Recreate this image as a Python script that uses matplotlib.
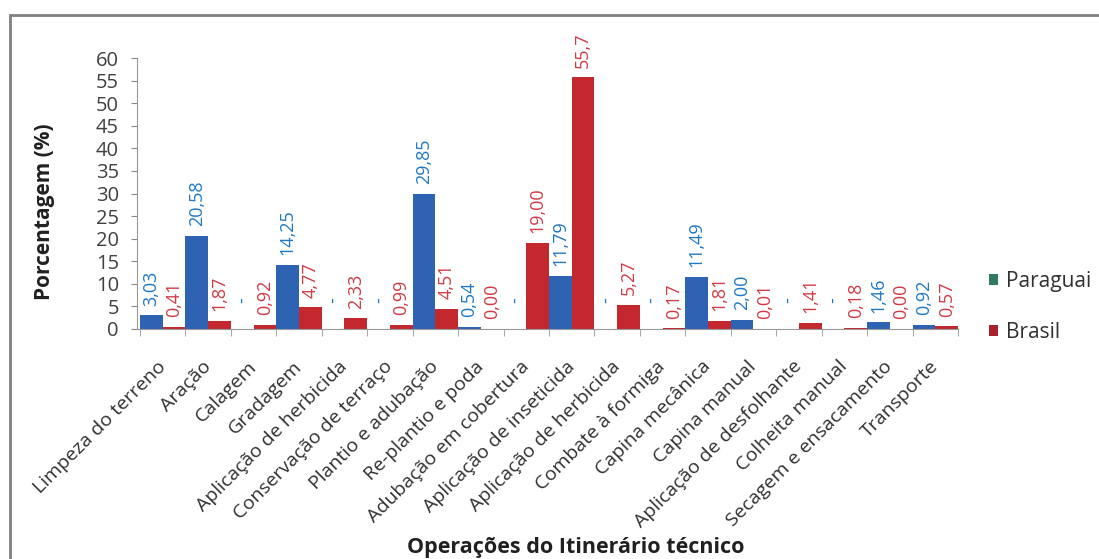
import matplotlib
matplotlib.use("Agg")
import matplotlib.pyplot as plt
from matplotlib.patches import Rectangle, Patch
import numpy as np

plt.rcParams['font.family'] = ['Open Sans', 'DejaVu Sans']

categories = [
    "Limpeza do terreno", "Aração", "Calagem", "Gradagem",
    "Aplicação de herbicida", "Conservação de terraço", "Plantio e adubação",
    "Re-plantio e poda", "Adubação em cobertura", "Aplicação de inseticida",
    "Aplicação de herbicida", "Combate à formiga", "Capina mecânica",
    "Capina manual", "Aplicação de desfolhante", "Colheita manual",
    "Secagem e ensacamento", "Transporte",
]
# None = operation not performed (shown as "-")
paraguai = [3.03, 20.58, None, 14.25, None, None, 29.85, 0.54, None, 11.79,
            None, None, 11.49, 2.00, None, None, 1.46, 0.92]
brasil = [0.41, 1.87, 0.92, 4.77, 2.33, 0.99, 4.51, 0.00, 19.00, 55.7,
          5.27, 0.17, 1.81, 0.01, 1.41, 0.18, 0.00, 0.57]
brasil_text = ["0,41", "1,87", "0,92", "4,77", "2,33", "0,99", "4,51", "0,00",
               "19,00", "55,7", "5,27", "0,17", "1,81", "0,01", "1,41", "0,18",
               "0,00", "0,57"]
yticks = list(range(0, 61, 5))

W, H = 1099, 559
fig = plt.figure(figsize=(W / 100, H / 100), dpi=100)
ax = fig.add_axes([137 / W, 1 - 329 / H, (958 - 137) / W, (329 - 58) / H])

blue = "#2E63B4"
red = "#C2282D"
blue_txt = "#1F78C4"
red_txt = "#D23A44"

x = np.arange(len(categories))
bw = 0.5
p_vals = [v if v is not None else 0 for v in paraguai]
ax.bar(x - bw / 2, p_vals, width=bw, color=blue, edgecolor="none")
ax.bar(x + bw / 2, brasil, width=bw, color=red, edgecolor="none")

for i, v in enumerate(paraguai):
    if v is None:
        txt, off = "-", 19
    else:
        txt, off = f"{v:.2f}".replace(".", ","), 7
    ax.annotate(txt, (x[i] - bw / 2, p_vals[i]), xytext=(0, off),
                textcoords="offset points", rotation=90, ha="center",
                va="bottom", fontsize=13, color=blue_txt, clip_on=False)
for i, v in enumerate(brasil):
    ax.annotate(brasil_text[i], (x[i] + bw / 2, v), xytext=(0, 7),
                textcoords="offset points", rotation=90, ha="center",
                va="bottom", fontsize=13, color=red_txt, clip_on=False)

ax.set_xlim(-0.566, len(categories) - 0.5)
ax.set_ylim(0, 60)
ax.set_yticks(yticks)
ax.tick_params(axis="y", labelsize=14.5, colors="#888888", labelcolor="#404040",
               length=4, pad=9)
ax.set_xticks(x)
ax.set_xticklabels(categories, rotation=45, ha="right", va="center",
                   rotation_mode="anchor", fontsize=14, color="#303030")
ax.tick_params(axis="x", length=0, pad=25)
ax.set_xticks(np.arange(-0.5, len(categories), 1), minor=True)
ax.tick_params(axis="x", which="minor", length=5, color="#999999")

for s in ["top", "right"]:
    ax.spines[s].set_visible(False)
for s in ["left", "bottom"]:
    ax.spines[s].set_color("#999999")

fig.text(45 / W, 1 - 212 / H, "Porcentagem (%)", fontsize=15,
         fontweight="bold", color="#202020", rotation=90, ha="center",
         va="center")
fig.text(576 / W, 1 - 548 / H, "Operações do Itinerário técnico", fontsize=15.5,
         fontweight="bold", color="#202020", ha="center", va="center")

handles = [Patch(facecolor="#2F7A62", label="Paraguai"),
           Patch(facecolor="#A8222E", label="Brasil")]
fig.legend(handles=handles, loc="center left",
           bbox_to_anchor=(970 / W, 1 - 307 / H), frameon=False, fontsize=15,
           handlelength=0.45, handleheight=0.45, handletextpad=0.4,
           labelspacing=1.45, labelcolor="#303030")

fig.patches.append(Rectangle((10 / W, -0.2), 1.2, (1 - 15 / H) + 0.2,
                             transform=fig.transFigure, fill=False,
                             edgecolor="#808080", linewidth=2))

fig.savefig("out.png", dpi=100)
